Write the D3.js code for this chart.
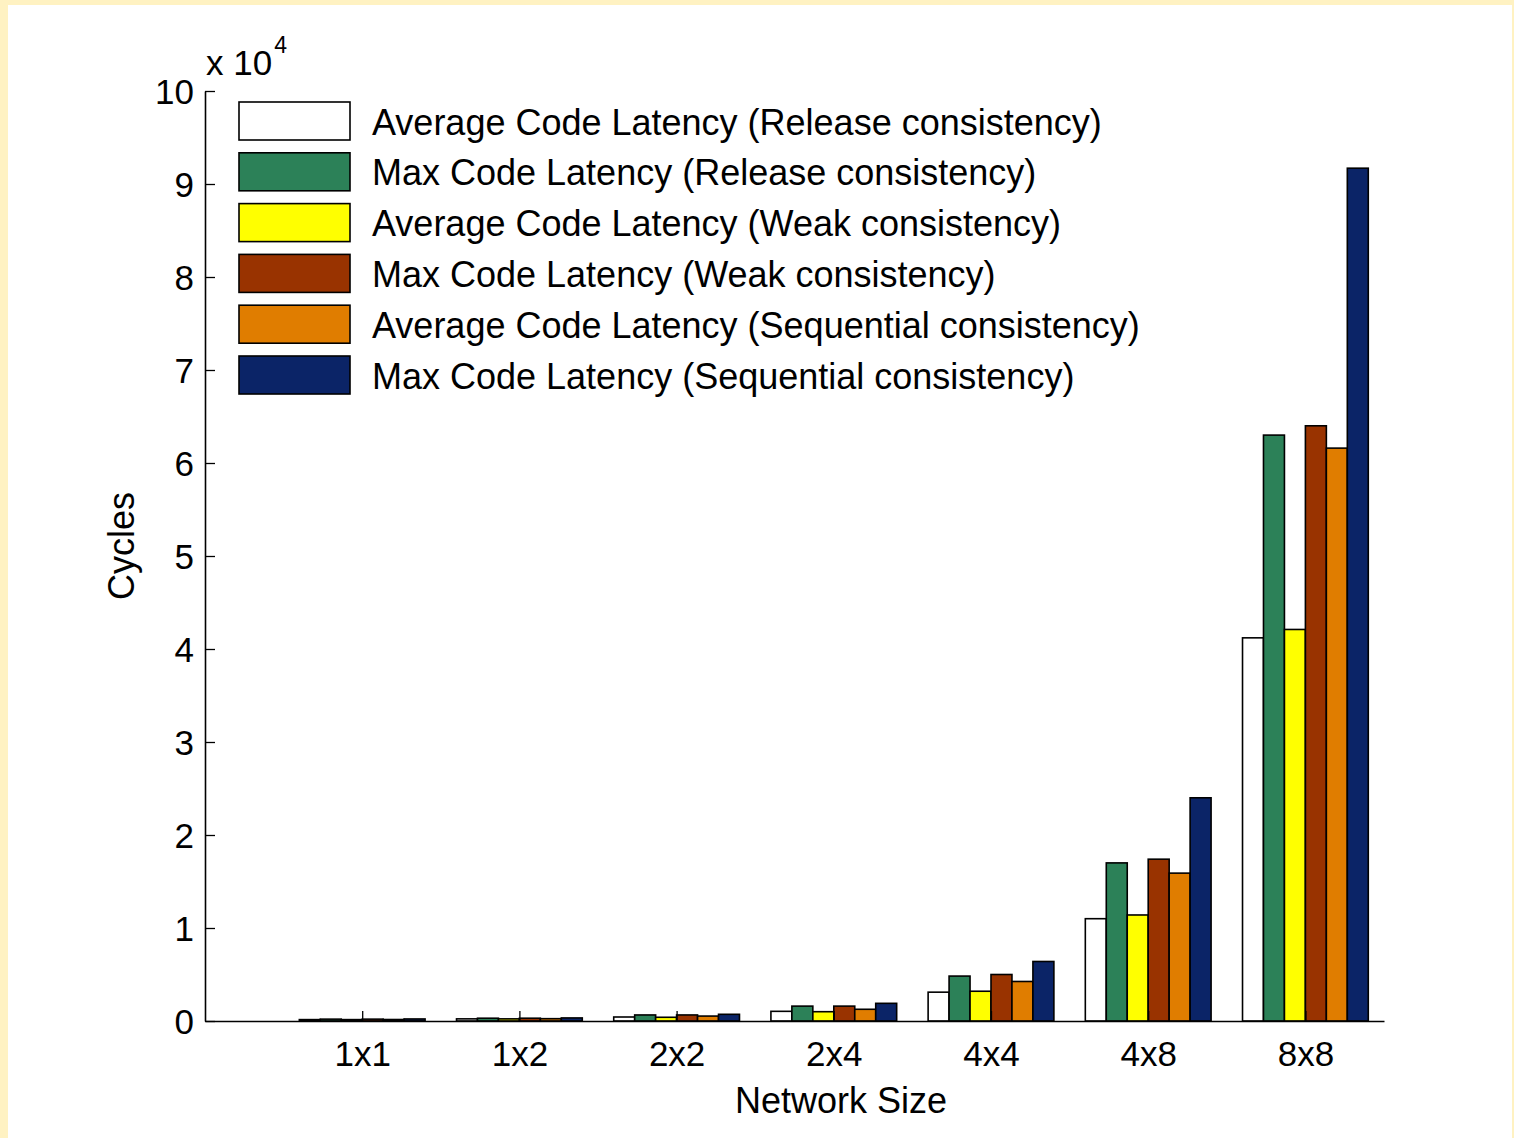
<!DOCTYPE html>
<html>
<head>
<meta charset="utf-8">
<script src="https://cdn.jsdelivr.net/npm/d3@7"></script>
<style>
  html, body { margin: 0; padding: 0; background: #fff2c2; }
  svg { display: block; }
  text { font-family: "Liberation Sans", Arial, sans-serif; fill: #000; }
</style>
</head>
<body>
<svg width="1514" height="1138"></svg>
<script>
// network sizes (first slot is an empty category in the original plot)
const categories = ["1x1", "1x2", "2x2", "2x4", "4x4", "4x8", "8x8"]
const seriesNames = [
  "Average Code Latency (Release consistency)",
  "Max Code Latency (Release consistency)",
  "Average Code Latency (Weak consistency)",
  "Max Code Latency (Weak consistency)",
  "Average Code Latency (Sequential consistency)",
  "Max Code Latency (Sequential consistency)"
]
const seriesColors = ["#ffffff", "#2c8158", "#ffff00", "#993300", "#e07d00", "#0b2467"]
// cycles, one array per series, same order as categories
const avgRelease = [150, 230, 430, 1040, 3100, 11000, 41200]
const maxRelease = [200, 300, 650, 1600, 4830, 17000, 63000]
const avgWeak    = [150, 230, 400, 1000, 3200, 11400, 42100]
const maxWeak    = [200, 300, 650, 1600, 5000, 17400, 64000]
const avgSeq     = [160, 250, 530, 1260, 4250, 15900, 61600]
const maxSeq     = [220, 330, 720, 1900, 6400, 24000, 91700]
const series = [avgRelease, maxRelease, avgWeak, maxWeak, avgSeq, maxSeq]
const yTicks = [0, 1, 2, 3, 4, 5, 6, 7, 8, 9, 10]

const svg = d3.select("svg")
svg.append("rect").attr("x", 8).attr("y", 5).attr("width", 1504).attr("height", 1133).attr("fill", "#fff")

const mLeft = 205, mRight = 1384, mTop = 91, mBottom = 1021
const x = d3.scaleLinear().domain([0, 7.5]).range([mLeft, mRight])
const y = d3.scaleLinear().domain([0, 100000]).range([mBottom, mTop])
const groupW = (x(1) - x(0)) * 0.8
const barW = groupW / series.length

const g = svg.append("g")

// bars
series.forEach((vals, si) => {
  g.selectAll(".s" + si)
    .data(vals)
    .enter().append("rect")
    .attr("x", (d, i) => x(i + 1) - groupW / 2 + si * barW)
    .attr("y", d => y(d))
    .attr("width", barW)
    .attr("height", d => y(0) - y(d))
    .attr("fill", seriesColors[si])
    .attr("stroke", "#000")
    .attr("stroke-width", 1.6)
})

// axes
const yAxis = d3.axisLeft(y)
  .tickValues(yTicks.map(t => t * 10000))
  .tickFormat(d => d / 10000)
  .tickSizeInner(-10).tickSizeOuter(0).tickPadding(11)
const yg = g.append("g").attr("transform", `translate(${mLeft},0)`).call(yAxis)

const xAxis = d3.axisBottom(x)
  .tickValues(d3.range(1, categories.length + 1))
  .tickFormat(d => categories[d - 1])
  .tickSizeInner(-10).tickSizeOuter(0).tickPadding(20)
const xg = g.append("g").attr("transform", `translate(0,${mBottom})`).call(xAxis)

for (const ax of [yg, xg]) {
  ax.select(".domain").attr("stroke", "#000").attr("stroke-width", 1.6)
  ax.selectAll(".tick line").attr("stroke", "#000").attr("stroke-width", 1.3)
  ax.selectAll(".tick text").style("font-size", "35px").attr("font-family", null)
}
yg.selectAll(".tick text").attr("dy", "0.35em")
xg.selectAll(".tick text").attr("dy", "0.71em")

// exponent label
const ex = svg.append("text").attr("x", 206).attr("y", 75).style("font-size", "35px")
ex.append("tspan").text("x 10")
ex.append("tspan").attr("dx", 2).attr("dy", -22).style("font-size", "23px").text("4")

// axis titles
svg.append("text").attr("x", 841).attr("y", 1113).attr("text-anchor", "middle")
  .style("font-size", "36px").text("Network Size")
svg.append("text").attr("transform", "translate(134,546) rotate(-90)").attr("text-anchor", "middle")
  .style("font-size", "36px").text("Cycles")

// legend
const lg = svg.append("g").selectAll("g").data(seriesNames).enter().append("g")
  .attr("transform", (d, i) => `translate(239,${102 + i * 50.8})`)
lg.append("rect").attr("width", 111).attr("height", 38)
  .attr("fill", (d, i) => seriesColors[i]).attr("stroke", "#000").attr("stroke-width", 1.6)
lg.append("text").attr("x", 133).attr("y", 20).attr("dy", "0.35em")
  .style("font-size", "36px").text(d => d)
</script>
</body>
</html>
